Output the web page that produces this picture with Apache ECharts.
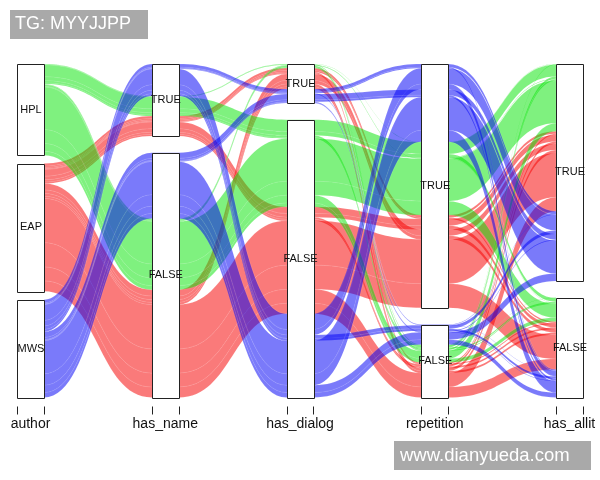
<!DOCTYPE html>
<html><head><meta charset="utf-8">
<script src="https://cdn.jsdelivr.net/npm/echarts@6/dist/echarts.min.js"></script>
<style>html,body{margin:0;padding:0;background:#fff}#c{width:600px;height:480px}</style>
</head><body><div id="c"></div>
<script>
// ---- data ----
const dimensions = ['author', 'has_name', 'has_dialog', 'repetition', 'has_allit'];
const authors = ['HPL', 'EAP', 'MWS'];            // top to bottom on the author axis
const flagLevels = ['TRUE', 'FALSE'];             // top to bottom on the other axes
// has_name / has_dialog / repetition / has_allit combinations (T = TRUE, F = FALSE)
const combos = ['TTTT','TTTF','TTFT','TTFF','TFTT','TFTF','TFFT','TFFF',
                'FTTT','FTTF','FTFT','FTFF','FFTT','FFTF','FFFT','FFFF'];
const freqHPL = [12, 4, 31, 15, 732, 240, 135, 67, 35, 12, 93, 46, 2631, 859, 482, 241];
const freqEAP = [159, 88, 70, 53, 412, 227, 129, 97, 399, 219, 176, 132, 2736, 1497, 860, 646];
const freqMWS = [197, 68, 27, 18, 975, 336, 214, 143, 355, 122, 48, 32, 2046, 709, 452, 302];
// author order (top to bottom) of the stripes inside the boxes of each axis
const authorOrderInBox = {
  has_name:   ['MWS', 'HPL', 'EAP'],
  has_dialog: ['HPL', 'EAP', 'MWS'],
  repetition: ['MWS', 'HPL', 'EAP'],
  has_allit:  ['HPL', 'EAP', 'MWS']
};
const authorColors = { HPL: 'rgba(0,228,0,0.5)', EAP: 'rgba(245,0,0,0.52)', MWS: 'rgba(0,0,245,0.52)' };

// ---- alluvial layout (data space: x = axis index, y = 0..1 from top) ----
const GAP = 0.05, CW = 0.1;
const flows = [];
[['EAP', freqEAP], ['HPL', freqHPL], ['MWS', freqMWS]].forEach(([a, arr]) => {
  arr.forEach((v, k) => {
    flows.push({
      cats: [a].concat(combos[k].split('').map(ch => ch === 'T' ? 'TRUE' : 'FALSE')),
      freq: v, lo: [], hi: []
    });
  });
});
const total = flows.reduce((s, f) => s + f.freq, 0);
function rankOf(axis, k, val) {
  if (k === 0) return axis === 0 ? authors.indexOf(val) : authorOrderInBox[dimensions[axis]].indexOf(val);
  return flagLevels.indexOf(val);
}
const boxes = [];
dimensions.forEach((dim, i) => {
  const keys = [i].concat(dimensions.map((_, k) => k).filter(k => k !== i));
  const order = flows.map((_, idx) => idx).sort((p, q) => {
    for (const k of keys) {
      const d = rankOf(i, k, flows[p].cats[k]) - rankOf(i, k, flows[q].cats[k]);
      if (d) return d;
    }
    return p - q;
  });
  const levels = i === 0 ? authors : flagLevels;
  let cum = 0, changes = 0, prev = null;
  const ext = {};
  order.forEach(idx => {
    const f = flows[idx], c = f.cats[i];
    if (prev !== null && c !== prev) changes++;
    prev = c;
    const shift = changes * GAP / (levels.length - 1);
    f.lo[i] = cum * (1 - GAP) + shift;
    cum += f.freq / total;
    f.hi[i] = cum * (1 - GAP) + shift;
    if (!ext[c]) ext[c] = [f.lo[i], f.hi[i]];
    ext[c][1] = f.hi[i];
  });
  levels.forEach(l => boxes.push([i, ext[l][0], ext[l][1], l]));
});

const chart = echarts.init(document.getElementById('c'), null, { renderer: 'canvas' });
const FONT = '"Liberation Sans", Arial, Helvetica, sans-serif';
chart.setOption({
  animation: false,
  backgroundColor: '#ffffff',
  grid: { left: 30.5, right: 30.5, top: 64, bottom: 82.5 },
  xAxis: { type: 'value', min: 0, max: 4, show: false },
  yAxis: { type: 'value', min: 0, max: 1, inverse: true, show: false },
  series: [
    {
      type: 'custom', silent: true, z: 2,
      data: flows.map((_, idx) => [idx]),
      encode: { x: -1, y: -1 },
      renderItem: function (params, api) {
        const f = flows[api.value(0)];
        const P = (x, y) => { const p = api.coord([x, y]); return p[0].toFixed(2) + ' ' + p[1].toFixed(2); };
        let d = 'M' + P(CW, f.lo[0]);
        for (let j = 0; j < 4; j++) {
          const m = j + 0.5;
          d += ' C' + P(m, f.lo[j]) + ' ' + P(m, f.lo[j + 1]) + ' ' + P(j + 1 - CW, f.lo[j + 1]);
          if (j + 1 < 4) d += ' L' + P(j + 1 + CW, f.lo[j + 1]);
        }
        d += ' L' + P(4 - CW, f.hi[4]);
        for (let j = 3; j >= 0; j--) {
          const m = j + 0.5;
          if (j + 1 < 4) d += ' L' + P(j + 1 - CW, f.hi[j + 1]);
          d += ' C' + P(m, f.hi[j + 1]) + ' ' + P(m, f.hi[j]) + ' ' + P(j + CW, f.hi[j]);
        }
        d += ' Z';
        return {
          type: 'path', shape: { pathData: d },
          style: { fill: authorColors[f.cats[0]], stroke: 'rgba(255,255,255,0.25)', lineWidth: 0.3 }
        };
      }
    },
    {
      type: 'custom', silent: true, z: 3,
      data: boxes,
      encode: { x: -1, y: -1 },
      renderItem: function (params, api) {
        const b = boxes[params.dataIndex];
        const p0 = api.coord([b[0] - CW, b[1]]);
        const p1 = api.coord([b[0] + CW, b[2]]);
        return {
          type: 'group',
          children: [
            { type: 'rect', shape: { x: Math.round(p0[0]) + 0.5, y: Math.round(p0[1]) + 0.5, width: Math.round(p1[0] - p0[0]), height: Math.round(p1[1] - p0[1]) },
              style: { fill: '#ffffff', stroke: '#222', lineWidth: 1 } },
            { type: 'text', style: { text: b[3], x: (p0[0] + p1[0]) / 2 + 0.5, y: (p0[1] + p1[1]) / 2,
              align: 'center', verticalAlign: 'middle', fill: '#111', fontSize: 11, fontFamily: FONT } }
          ]
        };
      }
    },
    {
      type: 'custom', silent: true, z: 3,
      data: dimensions.map((_, i) => [i]),
      encode: { x: -1, y: -1 },
      renderItem: function (params, api) {
        const i = params.dataIndex;
        const l = api.coord([i - CW, 1]), r = api.coord([i + CW, 1]);
        const y0 = l[1] + 9, y1 = l[1] + 17;
        return {
          type: 'group',
          children: [
            { type: 'line', shape: { x1: Math.round(l[0]) + 0.5, y1: y0, x2: Math.round(l[0]) + 0.5, y2: y1 }, style: { stroke: '#222', lineWidth: 1 } },
            { type: 'line', shape: { x1: Math.round(r[0]) + 0.5, y1: y0, x2: Math.round(r[0]) + 0.5, y2: y1 }, style: { stroke: '#222', lineWidth: 1 } },
            { type: 'text', style: { text: dimensions[i], x: (l[0] + r[0]) / 2, y: l[1] + 27, align: 'center', verticalAlign: 'middle',
              fill: '#111', fontSize: 14, fontFamily: FONT } }
          ]
        };
      }
    }
  ],
  graphic: [
    { type: 'rect', left: 10, top: 10, z: 10, shape: { width: 138, height: 29 }, style: { fill: '#a9a9a9' } },
    { type: 'text', left: 15, top: 15, z: 11, style: { text: 'TG: MYYJJPP', fill: '#ffffff', fontSize: 18, fontFamily: FONT } },
    { type: 'rect', left: 394, top: 441, z: 10, shape: { width: 197, height: 29 }, style: { fill: '#a9a9a9' } },
    { type: 'text', left: 400, top: 446, z: 11, style: { text: 'www.dianyueda.com', fill: '#ffffff', fontSize: 18.5, fontFamily: FONT } }
  ]
});
</script>
</body></html>
